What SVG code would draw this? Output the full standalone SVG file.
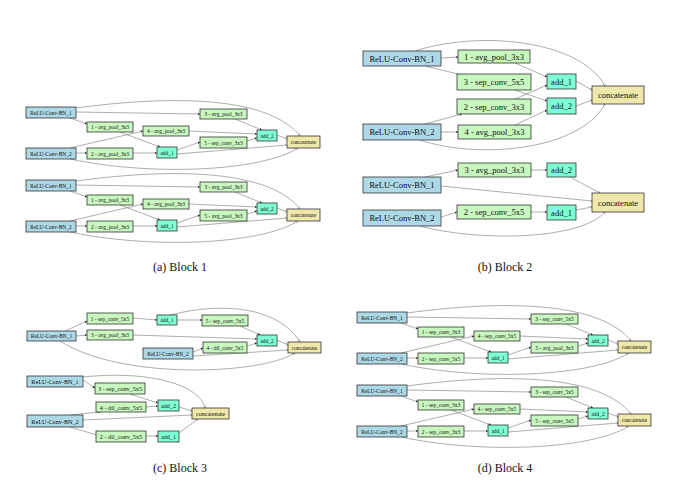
<svg xmlns="http://www.w3.org/2000/svg" width="695" height="494" viewBox="0 0 695 494">
<style>
rect{stroke:#333;stroke-width:0.8}
.r{fill:#add8e6}.o{fill:#c8f7c0}.a{fill:#7fffd4}.c{fill:#eee8aa}
text{font-family:"Liberation Serif",serif;fill:#111;text-anchor:middle;dominant-baseline:central}
.s text{font-size:5.4px}.m text{font-size:8.5px}.k text{font-size:6.2px}
.cap{font-size:12px}
.e,.h{fill:none;stroke:#777;stroke-width:0.6}
.e{marker-end:url(#f)}.h{marker-end:url(#h)}
</style>
<defs>
<marker id="f" viewBox="0 0 6 6" refX="6" refY="3" markerWidth="4" markerHeight="4" orient="auto"><path d="M0,0L6,3L0,6z" fill="#222"/></marker>
<marker id="h" viewBox="0 0 6 6" refX="6" refY="3" markerWidth="4" markerHeight="4" orient="auto"><path d="M0,0.5L6,3L0,5.5z" fill="#fff" stroke="#444" stroke-width="0.8"/></marker>
<g id="e14">
<path class="e" d="M76,112L200,114"/><path class="e" d="M70,118L87,124"/>
<path class="h" d="M76,108C180,94 270,98 300,136"/>
<path class="e" d="M70,148L143,131"/><path class="e" d="M76,153L87,153"/>
<path class="h" d="M70,159C150,176 260,172 298,148"/>
<path class="e" d="M120,132L160,147"/><path class="e" d="M133,153L157,153"/>
<path class="e" d="M177,150L200,142"/><path class="h" d="M177,154L287,145"/>
<path class="e" d="M189,131L257,134"/><path class="e" d="M235,119L262,130"/>
<path class="e" d="M247,141L257,138"/><path class="h" d="M277,135L287,139"/>
</g>
</defs>
<g id="edges">
<use href="#e14"/><use href="#e14" transform="translate(0,73)"/>
<use href="#e14" transform="translate(331,205)"/><use href="#e14" transform="translate(331,278)"/>
<path class="e" d="M441,58L458,57"/><path class="e" d="M425,66L462,75"/>
<path class="h" d="M415,51C480,30 580,40 605,86"/>
<path class="e" d="M515,63L547,77"/><path class="e" d="M515,99L547,85"/>
<path class="e" d="M515,90L547,101"/><path class="e" d="M515,125L547,110"/>
<path class="e" d="M425,124L462,114"/><path class="e" d="M441,132L458,132"/>
<path class="h" d="M420,140C480,160 580,150 605,104"/>
<path class="h" d="M576,81L592,90"/><path class="h" d="M576,106L592,100"/>
<path class="e" d="M425,177L458,170"/><path class="h" d="M441,186L592,201"/>
<path class="e" d="M531,170L547,170"/><path class="h" d="M570,177L600,193"/>
<path class="e" d="M441,217L457,212"/><path class="e" d="M531,212L547,212"/>
<path class="h" d="M576,210L592,207"/>
<path class="h" d="M420,226C480,242 580,240 605,212"/>
<path class="e" d="M65,331L87,321"/><path class="e" d="M76,336L87,335"/>
<path class="e" d="M133,318L157,320"/><path class="e" d="M177,320L202,320"/>
<path class="h" d="M170,315C230,300 280,310 300,342"/>
<path class="e" d="M240,326L260,335"/><path class="e" d="M133,335L257,339"/>
<path class="e" d="M193,352L203,348"/><path class="e" d="M247,346L257,343"/>
<path class="h" d="M193,356L288,350"/><path class="h" d="M277,340L288,345"/>
<path class="h" d="M60,341C120,380 260,375 295,353"/>
<path class="e" d="M83,380L95,388"/><path class="h" d="M83,377C150,370 200,385 205,408"/>
<path class="e" d="M130,394L158,403"/><path class="e" d="M146,407L158,406"/>
<path class="h" d="M179,407L192,411"/><path class="e" d="M70,415L100,412"/>
<path class="h" d="M83,420L192,415"/><path class="e" d="M70,427L100,436"/>
<path class="e" d="M146,436L158,436"/><path class="h" d="M179,433L198,419"/>
</g>
<g class="s">
<g id="b1tr1"><rect class="r" x="26" y="107" width="50" height="11"/><text x="51" y="112.5">ReLU-Conv-BN_1</text></g>
<g id="b1tn1"><rect class="o" x="87" y="122" width="46" height="10"/><text x="110" y="127">1 - avg_pool_3x3</text></g>
<g id="b1tn4"><rect class="o" x="143" y="126" width="46" height="10"/><text x="166" y="131">4 - avg_pool_3x3</text></g>
<g id="b1tn3"><rect class="o" x="200" y="109" width="47" height="10"/><text x="223.5" y="114">3 - avg_pool_3x3</text></g>
<g id="b1tr2"><rect class="r" x="26" y="148" width="50" height="11"/><text x="51" y="153.5">ReLU-Conv-BN_2</text></g>
<g id="b1tn2"><rect class="o" x="87" y="148" width="46" height="11"/><text x="110" y="153.5">2 - avg_pool_3x3</text></g>
<g id="b1ta1"><rect class="a" x="157" y="147" width="20" height="11"/><text x="167" y="152.5">add_1</text></g>
<g id="b1tn5"><rect class="o" x="200" y="137" width="47" height="11"/><text x="223.5" y="142.5">5 - sep_conv_3x3</text></g>
<g id="b1ta2"><rect class="a" x="257" y="130" width="20" height="11"/><text x="267" y="135.5">add_2</text></g>
<g id="b1tc"><rect class="c" x="287" y="136" width="33" height="12"/><text x="303.5" y="142">concatenate</text></g>
<g transform="translate(0,73)">
<g id="b1br1"><rect class="r" x="26" y="107" width="50" height="11"/><text x="51" y="112.5">ReLU-Conv-BN_1</text></g>
<g id="b1bn1"><rect class="o" x="87" y="122" width="46" height="10"/><text x="110" y="127">1 - avg_pool_3x3</text></g>
<g id="b1bn4"><rect class="o" x="143" y="126" width="46" height="10"/><text x="166" y="131">4 - avg_pool_3x3</text></g>
<g id="b1bn3"><rect class="o" x="200" y="109" width="47" height="10"/><text x="223.5" y="114">3 - avg_pool_3x3</text></g>
<g id="b1br2"><rect class="r" x="26" y="148" width="50" height="11"/><text x="51" y="153.5">ReLU-Conv-BN_2</text></g>
<g id="b1bn2"><rect class="o" x="87" y="148" width="46" height="11"/><text x="110" y="153.5">2 - avg_pool_3x3</text></g>
<g id="b1ba1"><rect class="a" x="157" y="147" width="20" height="11"/><text x="167" y="152.5">add_1</text></g>
<g id="b1bn5"><rect class="o" x="200" y="137" width="47" height="11"/><text x="223.5" y="142.5">5 - avg_pool_3x3</text></g>
<g id="b1ba2"><rect class="a" x="257" y="130" width="20" height="11"/><text x="267" y="135.5">add_2</text></g>
<g id="b1bc"><rect class="c" x="287" y="136" width="33" height="12"/><text x="303.5" y="142">concatenate</text></g>
</g>
<g transform="translate(331,205)">
<g id="b4tr1"><rect class="r" x="26" y="107" width="50" height="11"/><text x="51" y="112.5">ReLU-Conv-BN_1</text></g>
<g id="b4tn1"><rect class="o" x="87" y="122" width="46" height="10"/><text x="110" y="127">1 - sep_conv_3x3</text></g>
<g id="b4tn4"><rect class="o" x="143" y="126" width="46" height="10"/><text x="166" y="131">4 - sep_conv_5x5</text></g>
<g id="b4tn3"><rect class="o" x="200" y="109" width="47" height="10"/><text x="223.5" y="114">3 - sep_conv_5x5</text></g>
<g id="b4tr2"><rect class="r" x="26" y="148" width="50" height="11"/><text x="51" y="153.5">ReLU-Conv-BN_2</text></g>
<g id="b4tn2"><rect class="o" x="87" y="148" width="46" height="11"/><text x="110" y="153.5">2 - sep_conv_5x5</text></g>
<g id="b4ta1"><rect class="a" x="157" y="147" width="20" height="11"/><text x="167" y="152.5">add_1</text></g>
<g id="b4tn5"><rect class="o" x="200" y="137" width="47" height="11"/><text x="223.5" y="142.5">5 - avg_pool_3x3</text></g>
<g id="b4ta2"><rect class="a" x="257" y="130" width="20" height="11"/><text x="267" y="135.5">add_2</text></g>
<g id="b4tc"><rect class="c" x="287" y="136" width="33" height="12"/><text x="303.5" y="142">concatenate</text></g>
</g>
<g transform="translate(331,278)">
<g id="b4br1"><rect class="r" x="26" y="107" width="50" height="11"/><text x="51" y="112.5">ReLU-Conv-BN_1</text></g>
<g id="b4bn1"><rect class="o" x="87" y="122" width="46" height="10"/><text x="110" y="127">1 - sep_conv_3x3</text></g>
<g id="b4bn4"><rect class="o" x="143" y="126" width="46" height="10"/><text x="166" y="131">4 - sep_conv_5x5</text></g>
<g id="b4bn3"><rect class="o" x="200" y="109" width="47" height="10"/><text x="223.5" y="114">3 - sep_conv_5x5</text></g>
<g id="b4br2"><rect class="r" x="26" y="148" width="50" height="11"/><text x="51" y="153.5">ReLU-Conv-BN_2</text></g>
<g id="b4bn2"><rect class="o" x="87" y="148" width="46" height="11"/><text x="110" y="153.5">2 - sep_conv_3x3</text></g>
<g id="b4ba1"><rect class="a" x="157" y="147" width="20" height="11"/><text x="167" y="152.5">add_1</text></g>
<g id="b4bn5"><rect class="o" x="200" y="137" width="47" height="11"/><text x="223.5" y="142.5">5 - sep_conv_5x5</text></g>
<g id="b4ba2"><rect class="a" x="257" y="130" width="20" height="11"/><text x="267" y="135.5">add_2</text></g>
<g id="b4bc"><rect class="c" x="287" y="136" width="33" height="12"/><text x="303.5" y="142">concatenate</text></g>
</g>
<g id="b3tn1"><rect class="o" x="87" y="313" width="46" height="11"/><text x="110" y="318.5">1 - sep_conv_5x5</text></g>
<g id="b3ta1"><rect class="a" x="157" y="315" width="20" height="10"/><text x="167" y="320">add_1</text></g>
<g id="b3tn5"><rect class="o" x="202" y="315" width="46" height="11"/><text x="225" y="320.5">5 - sep_conv_5x5</text></g>
<g id="b3tr1"><rect class="r" x="27" y="331" width="49" height="10"/><text x="51.5" y="336">ReLU-Conv-BN_1</text></g>
<g id="b3tn3"><rect class="o" x="87" y="330" width="46" height="10"/><text x="110" y="335">3 - avg_pool_3x3</text></g>
<g id="b3ta2"><rect class="a" x="257" y="335" width="20" height="11"/><text x="267" y="340.5">add_2</text></g>
<g id="b3tn4"><rect class="o" x="203" y="342" width="44" height="11"/><text x="225" y="347.5">4 - dil_conv_5x5</text></g>
<g id="b3tr2"><rect class="r" x="143" y="348" width="50" height="11"/><text x="168" y="353.5">ReLU-Conv-BN_2</text></g>
<g id="b3tc"><rect class="c" x="288" y="342" width="33" height="11"/><text x="304.5" y="347.5">concatenate</text></g>
</g>
<g class="k">
<g id="b3br1"><rect class="r" x="27" y="376" width="56" height="11"/><text x="55" y="381.5">ReLU-Conv-BN_1</text></g>
<g id="b3bn3"><rect class="o" x="95" y="383" width="50" height="11"/><text x="120" y="388.5">3 - sep_conv_5x5</text></g>
<g id="b3bn4"><rect class="o" x="96" y="402" width="50" height="10"/><text x="121" y="407">4 - dil_conv_5x5</text></g>
<g id="b3ba2"><rect class="a" x="158" y="400" width="21" height="11"/><text x="168.5" y="405.5">add_2</text></g>
<g id="b3bc"><rect class="c" x="192" y="408" width="37" height="11"/><text x="210.5" y="413.5">concatenate</text></g>
<g id="b3br2"><rect class="r" x="27" y="415" width="56" height="12"/><text x="55" y="421">ReLU-Conv-BN_2</text></g>
<g id="b3bn2"><rect class="o" x="96" y="431" width="50" height="11"/><text x="121" y="436.5">2 - dil_conv_5x5</text></g>
<g id="b3ba1"><rect class="a" x="158" y="431" width="21" height="11"/><text x="168.5" y="436.5">add_1</text></g>
</g>
<g class="m">
<g id="b2tr1"><rect class="r" x="363" y="51" width="78" height="15"/><text x="402" y="58.5">ReLU-Conv-BN_1</text></g>
<g id="b2tn1"><rect class="o" x="458" y="50" width="72" height="13"/><text x="494" y="56.5">1 - avg_pool_3x3</text></g>
<g id="b2tn3"><rect class="o" x="457" y="74" width="74" height="16"/><text x="494" y="82">3 - sep_conv_5x5</text></g>
<g id="b2tn2"><rect class="o" x="457" y="99" width="74" height="15"/><text x="494" y="106.5">2 - sep_conv_3x3</text></g>
<g id="b2tr2"><rect class="r" x="363" y="124" width="78" height="16"/><text x="402" y="132">ReLU-Conv-BN_2</text></g>
<g id="b2tn4"><rect class="o" x="458" y="125" width="73" height="14"/><text x="494.5" y="132">4 - avg_pool_3x3</text></g>
<g id="b2ta1"><rect class="a" x="547" y="74" width="29" height="15"/><text x="561.5" y="81.5">add_1</text></g>
<g id="b2ta2"><rect class="a" x="547" y="98" width="29" height="16"/><text x="561.5" y="106">add_2</text></g>
<g id="b2tc"><rect class="c" x="592" y="86" width="52" height="18"/><text x="618" y="95">concatenate</text></g>
<g id="b2bn3"><rect class="o" x="458" y="163" width="73" height="14"/><text x="494.5" y="170">3 - avg_pool_3x3</text></g>
<g id="b2ba2"><rect class="a" x="547" y="163" width="29" height="14"/><text x="561.5" y="170">add_2</text></g>
<g id="b2br1"><rect class="r" x="363" y="177" width="78" height="16"/><text x="402" y="185">ReLU-Conv-BN_1</text></g>
<g id="b2bc"><rect class="c" x="592" y="193" width="52" height="19"/><text x="618" y="202.5">concatenate</text></g>
<g id="b2bn2"><rect class="o" x="457" y="205" width="74" height="14"/><text x="494" y="212">2 - sep_conv_5x5</text></g>
<g id="b2ba1"><rect class="a" x="547" y="205" width="29" height="15"/><text x="561.5" y="212.5">add_1</text></g>
<g id="b2br2"><rect class="r" x="363" y="210" width="78" height="16"/><text x="402" y="218">ReLU-Conv-BN_2</text></g>
</g>
<text class="cap" x="180" y="267">(a) Block 1</text>
<text class="cap" x="505" y="267">(b) Block 2</text>
<text class="cap" x="180" y="468">(c) Block 3</text>
<text class="cap" x="505" y="468">(d) Block 4</text>
</svg>
